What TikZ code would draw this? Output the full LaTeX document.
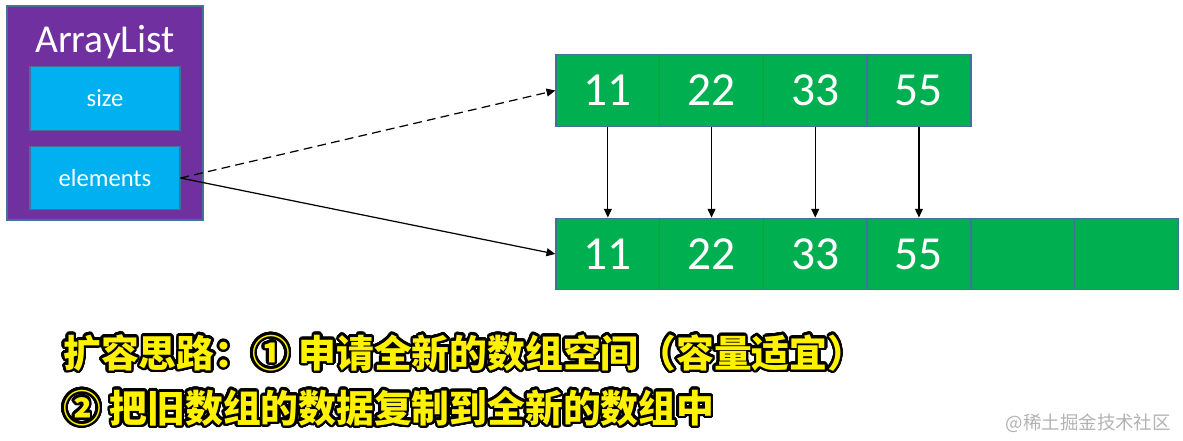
\documentclass[tikz,border=0pt]{standalone}
\usepackage{fontspec}
\setmainfont{Carlito}
\newfontfamily\cjk{Noto Sans CJK SC}
\usepackage{contour}
\contourlength{1.4pt}
\contournumber{32}
\usetikzlibrary{shapes,arrows.meta}
\definecolor{listpurple}{HTML}{7030A0}
\definecolor{fieldblue}{HTML}{00B0F0}
\definecolor{cellgreen}{HTML}{00B050}
\definecolor{edgeblue}{HTML}{41719C}
\tikzstyle{listbox} = [rectangle, minimum width=3.92cm, minimum height=4.28cm, fill=listpurple, draw=edgeblue, line width=0.8pt]
\tikzstyle{field} = [rectangle, minimum width=3cm, minimum height=1.27cm, fill=fieldblue, draw=edgeblue, line width=0.6pt, text=white, font=\fontsize{14}{16}\selectfont]
\tikzstyle{cell} = [rectangle, minimum width=2.074cm, minimum height=1.43cm, fill=cellgreen, draw=edgeblue, line width=0.8pt, text=white, font=\fontsize{27}{30}\selectfont]
\tikzstyle{arrow} = [line width=0.7pt, -{Triangle[length=5pt,width=4.5pt]}]
\tikzstyle{idea} = [anchor=west, text=yellow, inner sep=0pt, font=\cjk\bfseries\fontsize{21.5}{24}\selectfont]

\begin{document}
\begin{tikzpicture}[x=0.02cm, y=-0.02cm]
\useasboundingbox (0,0) rectangle (1183,440);
\node (list) [listbox] at (105,113) {};
\node (title) [text=white, font=\fontsize{22.5}{26}\selectfont] at (105,42) {ArrayList};
\node (size) [field] at (105,98.5) {size};
\node (elements) [field] at (105,178) {elements};

% old array and the new, larger one
\foreach \v [count=\i] in {11,22,33,55}
  \node (old\i) [cell] at ({556+103.7*(\i-0.5)},90.5) {\v};
\foreach \v [count=\i] in {11,22,33,55,{},{}}
  \node (new\i) [cell] at ({556+103.7*(\i-0.5)},254) {\v};

\draw [arrow, dash pattern=on 5pt off 3pt] (elements.east) -- (old1.west);
\draw [arrow] (elements.east) -- (new1.west);
\foreach \i in {1,...,4}
  \draw [arrow] (old\i.south) -- (new\i.north);

\node (step1) [idea] at (63,354) {\contour{black}{扩容思路：① 申请全新的数组空间（容量适宜）}};
\node (step2) [idea] at (63,409) {\contour{black}{② 把旧数组的数据复制到全新的数组中}};
\node (mark) [anchor=east, text=black!30, font=\cjk\fontsize{10.5}{12}\selectfont] at (1177,423) {@稀土掘金技术社区};
\end{tikzpicture}
\end{document}
